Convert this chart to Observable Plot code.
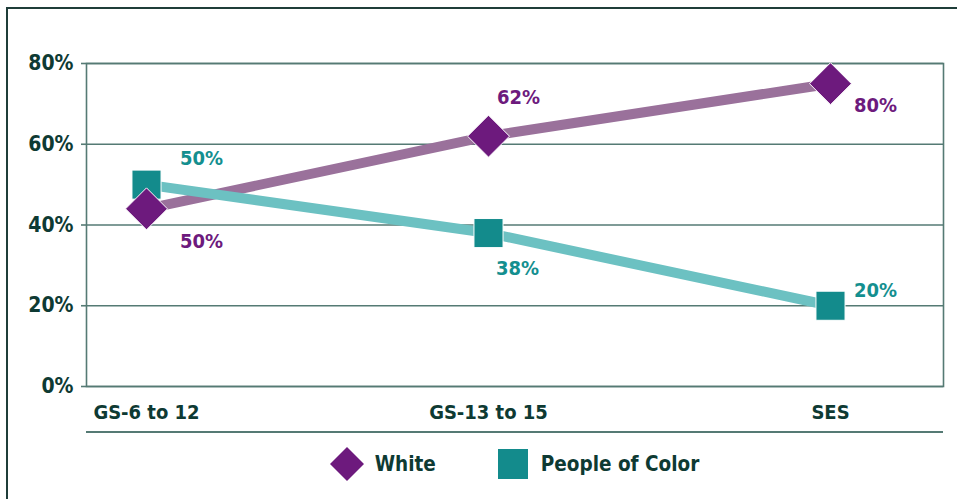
<!DOCTYPE html>
<html>
<head>
<meta charset="utf-8">
<script src="https://cdn.jsdelivr.net/npm/d3@7"></script>
<script src="https://cdn.jsdelivr.net/npm/@observablehq/plot@0.6"></script>
<style>
  html, body { margin: 0; padding: 0; background: #fff; overflow: hidden; width: 957px; height: 499px; }
  .frame { position: absolute; left: 6px; top: 7px; width: 1100px; height: 700px; border: 2px solid #1f3d39; pointer-events: none; }
  #chart { position: absolute; left: 0; top: 0; width: 957px; }
  .font { font-family: "Liberation Sans Narrow", "DejaVu Sans Condensed", "Arial Narrow", sans-serif; font-weight: bold; font-stretch: condensed; }
  .baseline { margin-left: 86px; width: 857px; height: 0; border-top: 2px solid #557a74; }
  .legend { margin-left: 86px; width: 857px; margin-top: 16px; display: flex; justify-content: center; align-items: center; color: #0e3a33; font-size: 20.5px; }
  .legend .item { display: flex; align-items: center; }
  .legend .sw-diamond { width: 24px; height: 24px; background: #6d1a7d; transform: rotate(45deg); margin: 0 16px 0 5px; }
  .legend .sw-square { width: 30px; height: 30px; background: #138b8c; margin-right: 13px; }
</style>
</head>
<body>
<div id="chart" class="font"></div>
<div class="frame"></div>
<script>
const categories = ["GS-6 to 12", "GS-13 to 15", "SES"];
const whiteValues = [44, 62, 75];
const pocValues = [50, 38, 20];
const whiteLabels = ["50%", "62%", "80%"];
const pocLabels = ["50%", "38%", "20%"];
const yTicks = [0, 20, 40, 60, 80];
const seriesNames = ["White", "People of Color"];

const white = categories.map((c, i) => ({category: c, value: whiteValues[i], label: whiteLabels[i]}));
const poc = categories.map((c, i) => ({category: c, value: pocValues[i], label: pocLabels[i]}));

// label offsets (style, px)
const whiteOffsets = [[55, 33], [30, -39], [45, 22]];
const pocOffsets = [[55, -26], [29, 36], [45, -15]];

const purple = "#6d1a7d", purpleLine = "#9a719b";
const teal = "#138b8c", tealLine = "#6cc1c2", tealText = "#148f8f";
const grid = "#557a74", ink = "#0e3a33";
const ff = '"Liberation Sans Narrow", "DejaVu Sans Condensed", "Arial Narrow", sans-serif';

const labelMarks = [];
white.forEach((d, i) => labelMarks.push(Plot.text([d], {x: "category", y: "value", text: "label", dx: whiteOffsets[i][0], dy: whiteOffsets[i][1], fill: purple, fontSize: 20, fontWeight: "bold", fontFamily: ff})));
poc.forEach((d, i) => labelMarks.push(Plot.text([d], {x: "category", y: "value", text: "label", dx: pocOffsets[i][0], dy: pocOffsets[i][1], fill: tealText, fontSize: 20, fontWeight: "bold", fontFamily: ff})));

const chart = Plot.plot({
  width: 957,
  height: 431,
  marginLeft: 86,
  marginRight: 14,
  marginTop: 63,
  marginBottom: 45,
  style: {fontFamily: ff, fontWeight: "bold", color: ink, background: "transparent", overflow: "visible"},
  x: {type: "point", domain: categories, range: [145, 830], padding: 0, label: null},
  y: {domain: [0, 80], label: null},
  marks: [
    Plot.gridY(yTicks, {stroke: grid, strokeOpacity: 1, strokeWidth: 1.6}),
    Plot.frame({stroke: grid, strokeWidth: 1.6}),
    Plot.axisY(yTicks, {tickSize: 5, tickPadding: 8, stroke: grid, strokeWidth: 1.6, fill: ink, fontSize: 21, fontWeight: "bold", tickFormat: d => d + "%", label: null}),
    Plot.axisX({tickSize: 0, tickPadding: 18, fill: ink, fontSize: 20, fontWeight: "bold", label: null}),
    Plot.line(white, {x: "category", y: "value", stroke: purpleLine, strokeWidth: 10}),
    Plot.line(poc, {x: "category", y: "value", stroke: tealLine, strokeWidth: 10}),
    Plot.dot(poc, {x: "category", y: "value", symbol: "square", r: 16.4, fill: teal, stroke: "white", strokeWidth: 1}),
    Plot.dot(white, {x: "category", y: "value", symbol: "diamond2", r: 18.9, fill: purple, stroke: "white", strokeWidth: 1}),
    ...labelMarks
  ]
});

const root = document.getElementById("chart");
root.appendChild(chart);
const base = document.createElement("div");
base.className = "baseline";
root.appendChild(base);

const legend = document.createElement("div");
legend.className = "legend font";
legend.innerHTML = `
  <div class="item"><div class="sw-diamond"></div><span>${seriesNames[0]}</span></div>
  <div class="item" style="margin-left:62px"><div class="sw-square"></div><span>${seriesNames[1]}</span></div>`;
root.appendChild(legend);
</script>
</body>
</html>
